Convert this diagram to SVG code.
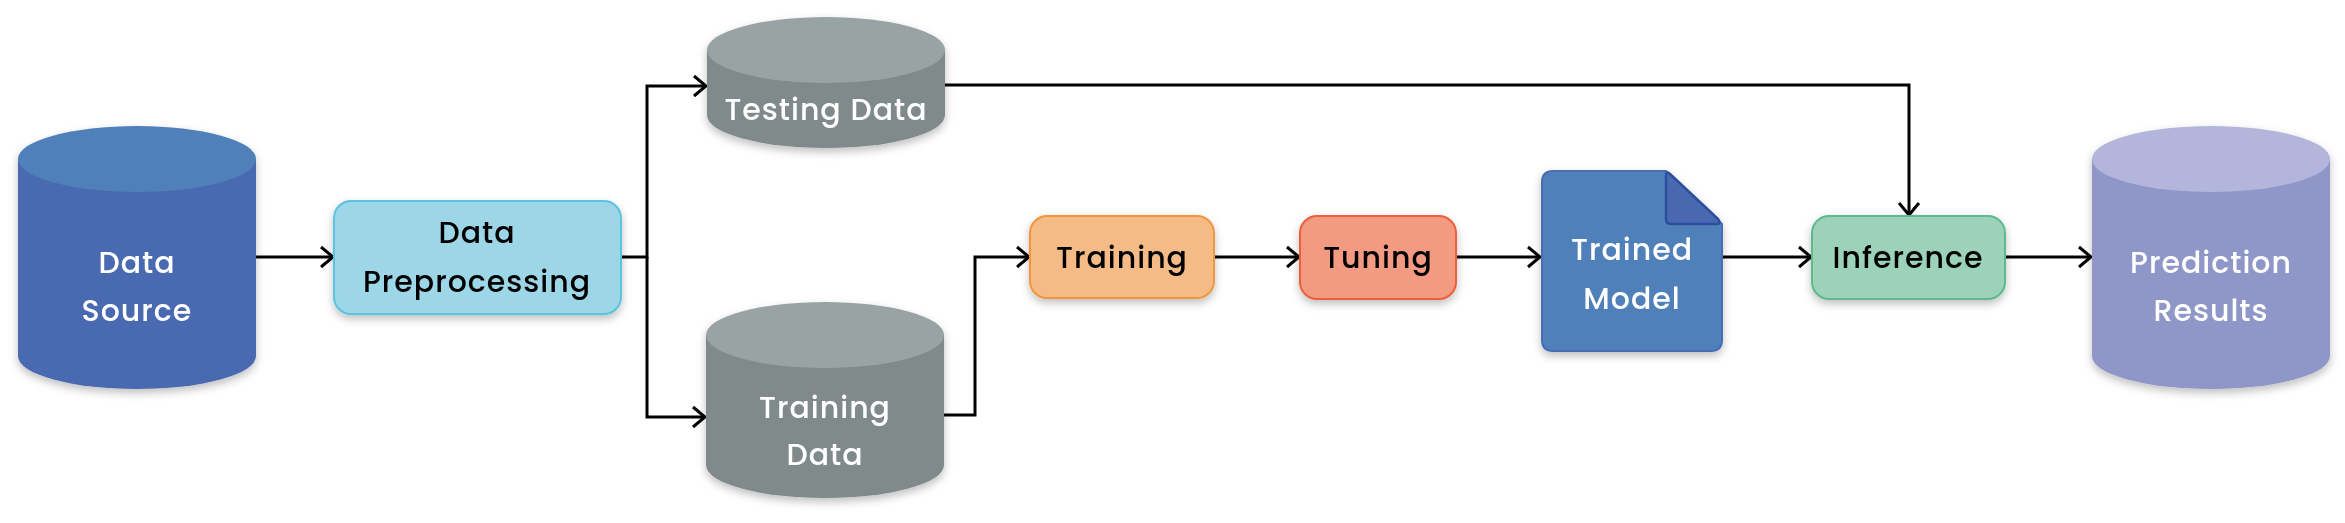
<svg xmlns="http://www.w3.org/2000/svg" width="2345" height="523" viewBox="0 0 2345 523">
<defs>
<filter id="sh" x="-20%" y="-20%" width="140%" height="150%">
<feDropShadow dx="0" dy="4" stdDeviation="4" flood-color="#000" flood-opacity="0.25"/>
</filter>
<marker id="arr" viewBox="-14 -12 16 24" markerWidth="16" markerHeight="24" refX="0" refY="0" orient="auto" markerUnits="userSpaceOnUse">
<path d="M-12,-10 L0,0 L-12,10" fill="none" stroke="#000" stroke-width="3"/>
</marker>
</defs>
<style>
text{font-family:Poppins,Inter,"Noto Sans",sans-serif;font-size:30px;font-weight:500;text-anchor:middle;letter-spacing:1px}
.w{fill:#fff}
.b{fill:#000}
.conn path{fill:none;stroke:#000;stroke-width:3;marker-end:url(#arr)}
.box{stroke-width:2}
</style>
<rect width="2345" height="523" fill="#fff"/>
<g class="conn">
<path d="M256,257 H333"/>
<path d="M621,257 H647 V86 H706"/>
<path d="M647,257 V417 H705"/>
<path d="M945,85 H1909 V215"/>
<path d="M944,415 H975 V257 H1029"/>
<path d="M1214,257 H1299"/>
<path d="M1456,257 H1540"/>
<path d="M1722,257 H1811"/>
<path d="M2005,257 H2091"/>
</g>
<g id="data-source" filter="url(#sh)">
<path d="M18,159 V356 A119,33 0 0 0 256,356 V159 Z" fill="#4A69B1"/>
<ellipse cx="137" cy="159" rx="119" ry="33" fill="#5080BA"/>
<text class="w" x="137" y="273">Data</text>
<text class="w" x="137" y="321">Source</text>
</g>
<g id="data-preprocessing" filter="url(#sh)">
<rect class="box" x="334" y="201" width="287" height="113" rx="17" fill="#9DD6E6" stroke="#5BC4DE"/>
<text class="b" x="477" y="243">Data</text>
<text class="b" x="477" y="292">Preprocessing</text>
</g>
<g id="testing-data" filter="url(#sh)">
<path d="M707,50 V115 A119,33 0 0 0 945,115 V50 Z" fill="#808A8A"/>
<ellipse cx="826" cy="50" rx="119" ry="33" fill="#99A3A3"/>
<text class="w" x="826" y="120">Testing Data</text>
</g>
<g id="training-data" filter="url(#sh)">
<path d="M706,335 V465 A119,33 0 0 0 944,465 V335 Z" fill="#808A8A"/>
<ellipse cx="825" cy="335" rx="119" ry="33" fill="#99A3A3"/>
<text class="w" x="825" y="418">Training</text>
<text class="w" x="825" y="465">Data</text>
</g>
<g id="training" filter="url(#sh)">
<rect class="box" x="1030" y="216" width="184" height="82" rx="17" fill="#F5BB87" stroke="#F0963F"/>
<text class="b" x="1122" y="268">Training</text>
</g>
<g id="tuning" filter="url(#sh)">
<rect class="box" x="1300" y="216" width="156" height="83" rx="17" fill="#F29A82" stroke="#EA603A"/>
<text class="b" x="1378" y="268">Tuning</text>
</g>
<g id="trained-model" filter="url(#sh)">
<path d="M1553,171 H1666 L1722,224 V340 Q1722,351 1711,351 H1553 Q1542,351 1542,340 V182 Q1542,171 1553,171 Z" fill="#5080BA" stroke="#4A6DB3" stroke-width="2"/>
<path d="M1666,176 Q1666,170 1670,174 L1718,219 Q1722,224 1716,224 H1671 Q1666,224 1666,219 Z" fill="#4868B0" stroke="#2C4F9C" stroke-width="2.5" stroke-linejoin="round"/>
<text class="w" x="1632" y="260">Trained</text>
<text class="w" x="1632" y="309">Model</text>
</g>
<g id="inference" filter="url(#sh)">
<rect class="box" x="1812" y="216" width="193" height="83" rx="17" fill="#9BD2B9" stroke="#5FB98F"/>
<text class="b" x="1908" y="268">Inference</text>
</g>
<g id="prediction-results" filter="url(#sh)">
<path d="M2092,159 V356 A119,33 0 0 0 2330,356 V159 Z" fill="#8F96C8"/>
<ellipse cx="2211" cy="159" rx="119" ry="33" fill="#B3B6DA"/>
<text class="w" x="2211" y="273">Prediction</text>
<text class="w" x="2211" y="321">Results</text>
</g>
</svg>
